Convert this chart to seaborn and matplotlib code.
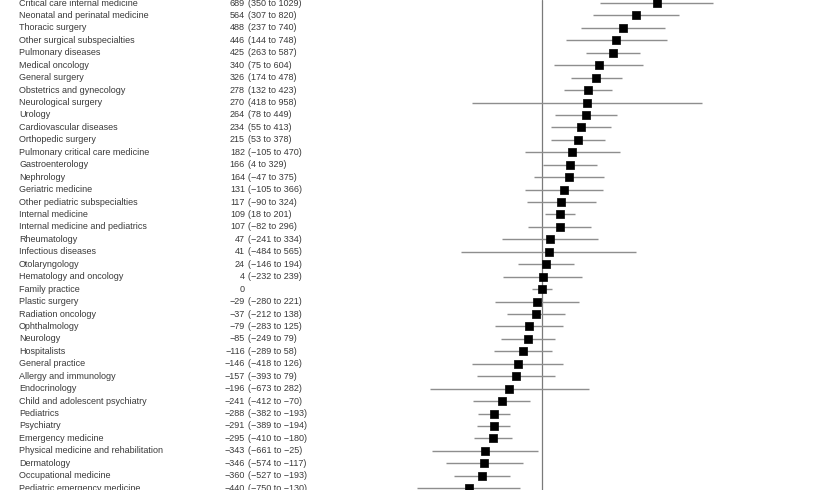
import matplotlib
matplotlib.use("Agg")
import matplotlib.pyplot as plt
import matplotlib.transforms as mtransforms
import seaborn as sns
import pandas as pd

specialties = [
    "Critical care internal medicine", "Neonatal and perinatal medicine", "Thoracic surgery",
    "Other surgical subspecialties", "Pulmonary diseases", "Medical oncology", "General surgery",
    "Obstetrics and gynecology", "Neurological surgery", "Urology", "Cardiovascular diseases",
    "Orthopedic surgery", "Pulmonary critical care medicine", "Gastroenterology", "Nephrology",
    "Geriatric medicine", "Other pediatric subspecialties", "Internal medicine",
    "Internal medicine and pediatrics", "Rheumatology", "Infectious diseases", "Otolaryngology",
    "Hematology and oncology", "Family practice", "Plastic surgery", "Radiation oncology",
    "Ophthalmology", "Neurology", "Hospitalists", "General practice", "Allergy and immunology",
    "Endocrinology", "Child and adolescent psychiatry", "Pediatrics", "Psychiatry",
    "Emergency medicine", "Physical medicine and rehabilitation", "Dermatology",
    "Occupational medicine", "Pediatric emergency medicine",
]
estimate = [689, 564, 488, 446, 425, 340, 326, 278, 270, 264, 234, 215, 182, 166, 164, 131, 117,
            109, 107, 47, 41, 24, 4, 0, -29, -37, -79, -85, -116, -146, -157, -196, -241, -288,
            -291, -295, -343, -346, -360, -440]
lower = [350, 307, 237, 144, 263, 75, 174, 132, -418, 78, 55, 53, -105, 4, -47, -105, -90, 18,
         -82, -241, -484, -146, -232, -60, -280, -212, -283, -249, -289, -418, -393, -673, -412,
         -382, -389, -410, -661, -574, -527, -750]
upper = [1029, 820, 740, 748, 587, 604, 478, 423, 958, 449, 413, 378, 470, 329, 375, 366, 324, 201,
         296, 334, 565, 194, 239, 60, 221, 138, 125, 79, 58, 126, 79, 282, -70, -193, -194, -180,
         -25, -117, -193, -130]
ci_text = ["(350 to 1029)", "(307 to 820)", "(237 to 740)", "(144 to 748)", "(263 to 587)",
           "(75 to 604)", "(174 to 478)", "(132 to 423)", "(418 to 958)", "(78 to 449)",
           "(55 to 413)", "(53 to 378)", "(−105 to 470)", "(4 to 329)", "(−47 to 375)",
           "(−105 to 366)", "(−90 to 324)", "(18 to 201)", "(−82 to 296)", "(−241 to 334)",
           "(−484 to 565)", "(−146 to 194)", "(−232 to 239)", "", "(−280 to 221)",
           "(−212 to 138)", "(−283 to 125)", "(−249 to 79)", "(−289 to 58)", "(−418 to 126)",
           "(−393 to 79)", "(−673 to 282)", "(−412 to −70)", "(−382 to −193)",
           "(−389 to −194)", "(−410 to −180)", "(−661 to −25)", "(−574 to −117)",
           "(−527 to −193)", "(−750 to −130)"]

df = pd.DataFrame({"specialty": specialties, "estimate": estimate,
                   "lower": lower, "upper": upper, "ci": ci_text})
df["row"] = range(len(df))

sns.set_theme(style="white")
plt.rcParams["font.family"] = ["Liberation Sans", "DejaVu Sans"]

W, H = 818, 490
fig = plt.figure(figsize=(W / 100, H / 100), dpi=100)
ax = fig.add_axes([0, 0, 1, 1])

zero_px = 542.0
px_per_unit = 0.1665
row0_px = 3.0
row_step = 12.44
ax.set_xlim((0 - zero_px) / px_per_unit, (W - zero_px) / px_per_unit)
ax.set_ylim((H - row0_px) / row_step, -row0_px / row_step)

ax.axvline(0, color="#7a7a7a", lw=0.9, zorder=1)
ax.hlines(df["row"], df["lower"], df["upper"], color="#8e8e8e", lw=1.0, zorder=2)
sns.scatterplot(data=df, x="estimate", y="row", marker="s", s=36, color="black",
                edgecolor="black", linewidth=0.5, ax=ax, zorder=3, legend=False)

trans = mtransforms.blended_transform_factory(fig.transFigure, ax.transData)
fs = 6.5
tc = "#3a3a3a"
for _, r in df.iterrows():
    ax.text(19 / W, r["row"], r["specialty"], transform=trans, ha="left", va="center",
            fontsize=fs, color=tc)
    est = str(r["estimate"]).replace("-", "−")
    ax.text(245 / W, r["row"], est, transform=trans, ha="right", va="center",
            fontsize=fs, color=tc)
    if r["ci"]:
        ax.text(247.5 / W, r["row"], r["ci"], transform=trans, ha="left", va="center",
                fontsize=fs, color=tc)

ax.set_axis_off()
fig.savefig("out.png", dpi=100)
